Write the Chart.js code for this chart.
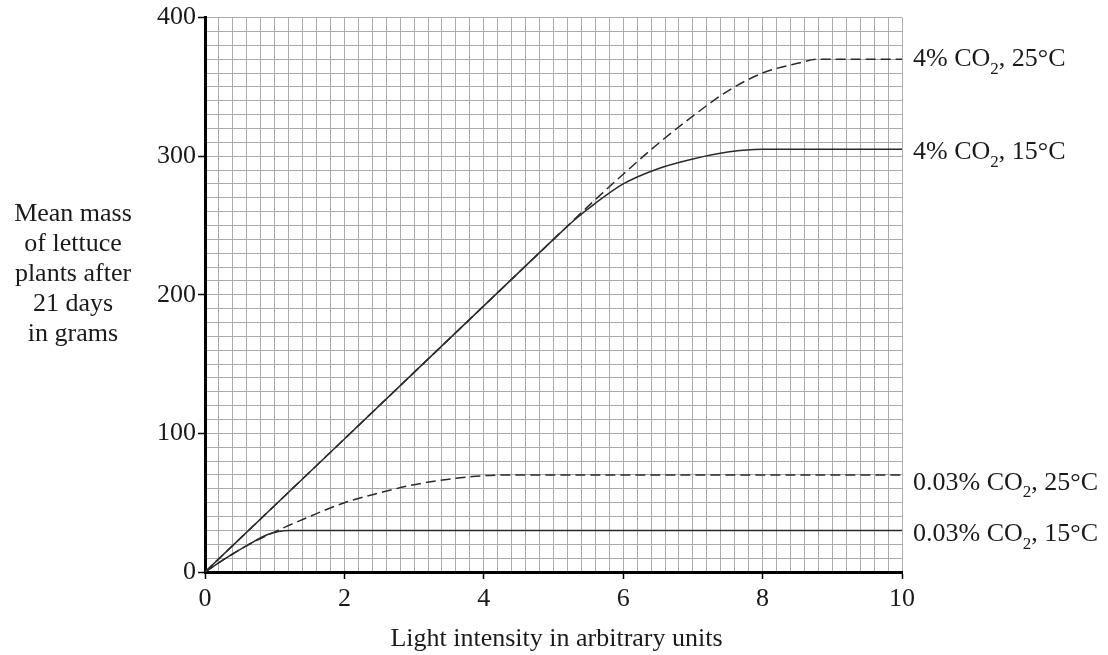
<!DOCTYPE html>
<html>
<head>
<meta charset="utf-8">
<script src="https://cdn.jsdelivr.net/npm/chart.js@4.4.1/dist/chart.umd.min.js"></script>
<style>
  html, body { margin: 0; padding: 0; background: #fff; }
  #wrap { width: 1108px; height: 655px; position: relative; }
</style>
</head>
<body>
<div id="wrap"><canvas id="c" width="1108" height="655"></canvas></div>
<script>
// ---- Data ----
const xTickLabels = [0, 2, 4, 6, 8, 10];
const yTickLabels = [0, 100, 200, 300, 400];

const seriesNames = ['4% CO\u2082, 25°C', '4% CO\u2082, 15°C', '0.03% CO\u2082, 25°C', '0.03% CO\u2082, 15°C'];

const light_co2hi_25 = [0, 1, 2, 3, 4, 5, 5.5, 6, 6.5, 7, 7.5, 8, 8.5, 8.8, 10];
const mass_co2hi_25  = [0, 48, 96, 144, 192, 240, 264, 287, 309, 329, 347, 360, 367, 370, 370];

const light_co2hi_15 = [0, 1, 2, 3, 4, 5, 5.3, 5.6, 6, 6.5, 7, 7.5, 8, 10];
const mass_co2hi_15  = [0, 48, 96, 144, 192, 240, 254, 266, 280, 291, 298, 303, 305, 305];

const light_co2lo_25 = [0, 0.3, 0.6, 1, 1.5, 2, 2.5, 3, 3.5, 4, 4.5, 10];
const mass_co2lo_25  = [0, 10, 19, 29, 40, 50, 57, 63, 67, 69.5, 70, 70];

const light_co2lo_15 = [0, 0.3, 0.6, 0.9, 1.2, 10];
const mass_co2lo_15  = [0, 10, 19, 27, 30, 30];

const yTitleLines = ['Mean mass', 'of lettuce', 'plants after', '21 days', 'in grams'];
const xTitle = 'Light intensity in arbitrary units';

// ---- Helpers ----
function pts(xs, ys) { return xs.map((x, i) => ({ x: x, y: ys[i] })); }
const FONT = '"Liberation Serif", "Times New Roman", serif';
const isLabelX = v => xTickLabels.some(t => Math.abs(t - v) < 1e-6);
const isLabelY = v => yTickLabels.some(t => Math.abs(t - v) < 1e-6);

const lineStyle = { borderColor: '#2a2a2a', borderWidth: 1.5, pointRadius: 0, fill: false,
  cubicInterpolationMode: 'monotone' };

// Custom text plugin: y title (horizontal, multi-line), x title, right-hand series labels with subscripts
const textPlugin = {
  id: 'textPlugin',
  afterDraw(chart) {
    const ctx = chart.ctx;
    const ys = chart.scales.y;
    const ca = chart.chartArea;
    ctx.save();
    ctx.fillStyle = '#1a1a1a';
    ctx.font = '26px ' + FONT;
    ctx.textAlign = 'center';
    ctx.textBaseline = 'middle';
    yTitleLines.forEach((t, i) => ctx.fillText(t, 73, 214 + i * 30));
    ctx.fillText(xTitle, (ca.left + ca.right) / 2 + 3, 639);

    // right labels
    const finals = [mass_co2hi_25, mass_co2hi_15, mass_co2lo_25, mass_co2lo_15].map(a => a[a.length - 1]);
    const offs = [0, 3, 8, 4];
    ctx.textAlign = 'left';
    ctx.textBaseline = 'middle';
    seriesNames.forEach((name, i) => {
      const y = ys.getPixelForValue(finals[i]) + offs[i];
      let x = ca.right + 11;
      const parts = name.split('\u2082');
      ctx.font = '26px ' + FONT;
      ctx.fillText(parts[0], x, y);
      x += ctx.measureText(parts[0]).width;
      ctx.font = '17px ' + FONT;
      ctx.fillText('2', x, y + 10);
      x += ctx.measureText('2').width;
      ctx.font = '26px ' + FONT;
      ctx.fillText(parts[1], x, y);
    });
    ctx.restore();
  }
};

new Chart(document.getElementById('c'), {
  type: 'line',
  data: {
    datasets: [
      Object.assign({ label: seriesNames[0], data: pts(light_co2hi_25, mass_co2hi_25), borderDash: [10, 5] }, lineStyle),
      Object.assign({ label: seriesNames[1], data: pts(light_co2hi_15, mass_co2hi_15) }, lineStyle),
      Object.assign({ label: seriesNames[2], data: pts(light_co2lo_25, mass_co2lo_25), borderDash: [10, 5] }, lineStyle),
      Object.assign({ label: seriesNames[3], data: pts(light_co2lo_15, mass_co2lo_15) }, lineStyle)
    ]
  },
  options: {
    responsive: false,
    animation: false,
    devicePixelRatio: 1,
    layout: { padding: { left: 0, top: 15, right: 206, bottom: 0 } },
    plugins: { legend: { display: false }, tooltip: { enabled: false }, title: { display: false } },
    scales: {
      x: {
        type: 'linear',
        min: 0, max: 10,
        afterFit(s) { s.height = 83; },
        border: { display: true, color: '#000', width: 3 },
        grid: {
          color: '#ababab', lineWidth: 1, drawTicks: true, tickLength: 7, tickWidth: 1.5,
          tickColor: c => (c.tick && isLabelX(c.tick.value)) ? '#000' : 'rgba(0,0,0,0)'
        },
        ticks: {
          stepSize: 0.2, autoSkip: false, maxTicksLimit: 200, maxRotation: 0, padding: 5,
          color: '#1a1a1a', font: { family: FONT, size: 26 },
          callback: v => isLabelX(v) ? String(Math.round(v)) : ''
        }
      },
      y: {
        type: 'linear',
        min: 0, max: 400,
        afterFit(s) { s.width = 205; },
        border: { display: true, color: '#000', width: 3 },
        grid: {
          color: '#ababab', lineWidth: 1, drawTicks: true, tickLength: 7, tickWidth: 1.5,
          tickColor: c => (c.tick && isLabelY(c.tick.value)) ? '#000' : 'rgba(0,0,0,0)'
        },
        ticks: {
          stepSize: 10, autoSkip: false, maxTicksLimit: 200, padding: 2,
          color: '#1a1a1a', font: { family: FONT, size: 26 },
          callback: v => isLabelY(v) ? String(Math.round(v)) : ''
        }
      }
    }
  },
  plugins: [textPlugin]
});
</script>
</body>
</html>
